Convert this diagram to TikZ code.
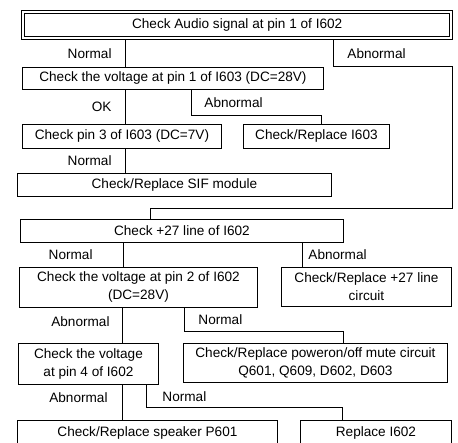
\documentclass[tikz,border=0pt]{standalone}
\usepackage{fontspec}
\setmainfont{Liberation Sans}

\begin{document}
\begin{tikzpicture}[x=1pt, y=-1pt,
    box/.style={draw, line width=0.9pt, anchor=north west, align=center, inner sep=1pt, font=\fontsize{13.6}{18}\selectfont},
    lbl/.style={inner sep=0pt, font=\fontsize{13.6}{17}\selectfont},
    wire/.style={line width=0.9pt}]
    \useasboundingbox (0,0) rectangle (458,442);

    % boxes
    \node[box, double, double distance=2pt, line width=0.8pt, outer sep=2.2pt, minimum width=428, minimum height=26] (audio) at (21,10) {Check Audio signal at pin 1 of I602};
    \node[box, minimum width=301, minimum height=22] (vpin1) at (22,67) {Check the voltage at pin 1 of I603 (DC=28V)};
    \node[box, minimum width=199, minimum height=24] (pin3) at (22,124) {Check pin 3 of I603 (DC=7V)};
    \node[box, minimum width=146, minimum height=24] (rep603) at (243,124) {Check/Replace I603};
    \node[box, minimum width=314, minimum height=23] (sif) at (17,173) {Check/Replace SIF module};
    \node[box, minimum width=323, minimum height=23] (line27) at (20,219) {Check +27 line of I602};
    \node[box, minimum width=238, minimum height=40] (vpin2) at (19,267) {Check the voltage at pin 2 of I602\\(DC=28V)};
    \node[box, minimum width=170, minimum height=39] (rep27) at (281,267) {Check/Replace +27 line\\circuit};
    \node[box, minimum width=140, minimum height=41] (vpin4) at (18,343) {Check the voltage\\at pin 4 of I602};
    \node[box, minimum width=264, minimum height=39] (mute) at (183,343) {Check/Replace poweron/off mute circuit\\Q601, Q609, D602, D603};
    \node[box, minimum width=260, minimum height=26] (spk) at (17,420) {Check/Replace speaker P601};
    \node[box, minimum width=151, minimum height=26] (rep602) at (300,420) {Replace I602};

    % connectors
    \draw[wire] (audio.south -| 125,0) -- node[lbl, left=13pt] {Normal} (vpin1.north -| 125,0);
    \draw[wire] (audio.south -| 333,0) -- node[lbl, right=14pt] {Abnormal} ++(0,26) -| (452,208) -| (line27.north -| 150,0);
    \draw[wire] (vpin1.south -| 125,0) -- node[lbl, left=13pt] {OK} (pin3.north -| 125,0);
    \draw[wire] (vpin1.south -| 191,0) -- node[lbl, right=13pt] {Abnormal} ++(0,26) -| (rep603.north -| 321,0);
    \draw[wire] (pin3.south -| 125,0) -- node[lbl, left=13pt] {Normal} (sif.north -| 125,0);
    \draw[wire] (line27.south -| 123,0) -- node[lbl, left=30pt] {Normal} (vpin2.north -| 123,0);
    \draw[wire] (line27.south -| 302,0) -- node[lbl, right=6pt] {Abnormal} (rep27.north -| 302,0);
    \draw[wire] (vpin2.south -| 122,0) -- node[lbl, left=12pt, pos=0.38] {Abnormal} (vpin4.north -| 122,0);
    \draw[wire] (vpin2.south -| 184,0) -- node[lbl, right=14pt] {Normal} ++(0,24) -| (mute.north -| 343,0);
    \draw[wire] (vpin4.south -| 122,0) -- node[lbl, left=14pt, pos=0.35] {Abnormal} (spk.north -| 122,0);
    \draw[wire] (vpin4.south -| 146,0) -- node[lbl, right=16pt] {Normal} ++(0,23) -| (rep602.north -| 342,0);
\end{tikzpicture}
\end{document}
